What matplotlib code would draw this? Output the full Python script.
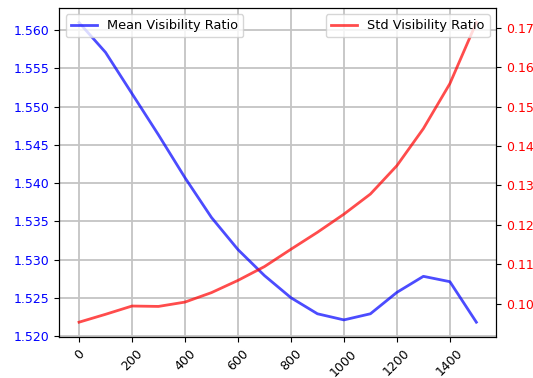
#!/usr/bin/env python3
"""Mean / std visibility ratio vs step, twin axes."""

import matplotlib
matplotlib.use("Agg")
import matplotlib.pyplot as plt

steps = [0, 100, 200, 300, 400, 500, 600, 700, 800, 900, 1000, 1100, 1200, 1300, 1400, 1500]
mean_ratio = [1.5610, 1.5571, 1.5517, 1.5463, 1.5407, 1.5355, 1.5313, 1.5279, 1.5250,
              1.5229, 1.5221, 1.5229, 1.5257, 1.5278, 1.5271, 1.5218]
std_ratio = [0.0953, 0.0973, 0.0994, 0.0993, 0.1004, 0.1028, 0.1059, 0.1094, 0.1138,
             0.1181, 0.1227, 0.1278, 0.1350, 0.1444, 0.1558, 0.1713]

fig, ax1 = plt.subplots(figsize=(5.33, 3.78), dpi=100)
fig.subplots_adjust(left=0.111, right=0.931, bottom=0.108, top=0.98)

ax1.plot(steps, mean_ratio, color="blue", alpha=0.7, linewidth=2, label="Mean Visibility Ratio")
ax1.tick_params(axis="y", labelcolor="blue", labelsize=9)
ax1.tick_params(axis="x", labelsize=9, rotation=45)
ax1.grid(True, color="#c4c4c4", linewidth=1.3)
ax1.legend(loc="upper left", fontsize=9.3)

ax2 = ax1.twinx()
ax2.plot(steps, std_ratio, color="red", alpha=0.7, linewidth=2, label="Std Visibility Ratio")
ax2.tick_params(axis="y", labelcolor="red", labelsize=9)
ax2.legend(loc="upper right", fontsize=9.3)

plt.savefig("out.png", dpi=100)
